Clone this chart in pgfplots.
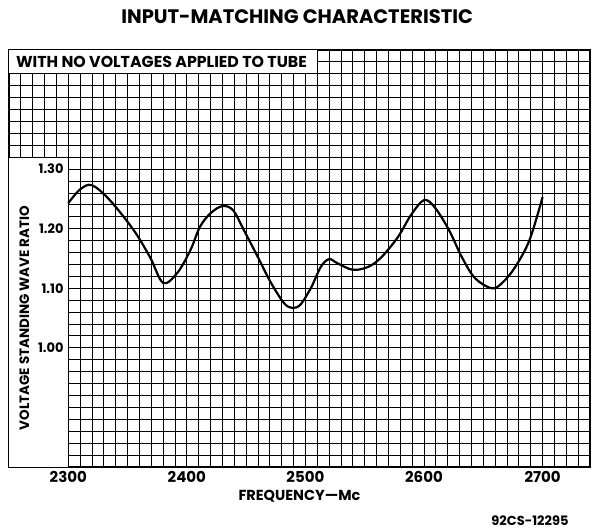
\documentclass[border=0pt]{standalone}
\usepackage{fontspec}
\setmainfont{Poppins}
\usepackage{pgfplots}
\pgfplotsset{compat=1.18}
\begin{document}
\begin{tikzpicture}
\begin{axis}[
  scale only axis,
  width=581pt, height=417pt,
  xmin=2250, xmax=2740, ymin=0.8, ymax=1.5,
  xtick={2300,2400,...,2700},
  ytick={1.0,1.1,1.2,1.3},
  yticklabels={},
  minor xtick={2250,2260,...,2740},
  minor ytick={0.80,0.82,...,1.50},
  grid=both,
  major grid style={black, line width=0.9pt},
  minor grid style={black, line width=0.9pt},
  major tick length=0pt, minor tick length=0pt,
  axis line style={line width=1.6pt},
  tick label style={font=\bfseries\fontsize{15}{15}\selectfont},
  /pgf/number format/assume math mode=true,
  xticklabel style={/pgf/number format/1000 sep={}, yshift=-1pt},
  title={INPUT-MATCHING CHARACTERISTIC},
  title style={at={(axis cs:2493,1.5)}, anchor=center, yshift=27pt, font=\bfseries\fontsize{19.5}{19.5}\selectfont},
  xlabel={FREQUENCY---Mc},
  xlabel style={at={(axis cs:2495,0.8)}, anchor=center, yshift=-29pt, font=\bfseries\fontsize{14.5}{14.5}\selectfont},
]
\fill[white] (axis cs:2250,0.8) rectangle (axis cs:2300,1.32);
\fill[white] (axis cs:2250,1.46) rectangle (axis cs:2510,1.5);
\draw[line width=1.2pt] (axis cs:2250,1.32) -- (axis cs:2300,1.32) -- (axis cs:2300,0.8);
\draw[line width=1.2pt] (axis cs:2250,1.46) -- (axis cs:2510,1.46) -- (axis cs:2510,1.5);
\node[font=\bfseries\fontsize{15.8}{15.8}\selectfont, anchor=west] at (axis cs:2253,1.48) {WITH NO VOLTAGES APPLIED TO TUBE};
\node[font=\bfseries\fontsize{13.5}{13.5}\selectfont, rotate=90] at (axis cs:2263,1.05) {VOLTAGE STANDING WAVE RATIO};
\node[anchor=east, font=\bfseries\fontsize{13}{13}\selectfont, inner sep=1pt] at (axis cs:2297,1.0) {1.00};
\node[anchor=east, font=\bfseries\fontsize{13}{13}\selectfont, inner sep=1pt] at (axis cs:2297,1.1) {1.10};
\node[anchor=east, font=\bfseries\fontsize{13}{13}\selectfont, inner sep=1pt] at (axis cs:2297,1.2) {1.20};
\node[anchor=east, font=\bfseries\fontsize{13}{13}\selectfont, inner sep=1pt] at (axis cs:2297,1.3) {1.30};
\addplot[black, line width=2.2pt, smooth, tension=0.55] coordinates {
(2300,1.243) (2310,1.266) (2320,1.273) (2335,1.248) (2355,1.198) (2369,1.152)
(2380,1.109) (2392,1.126) (2403,1.164) (2411,1.203) (2420,1.226) (2430,1.238)
(2439,1.231) (2448,1.198) (2460,1.152) (2471,1.109) (2482,1.075) (2489,1.067)
(2496,1.073) (2505,1.102) (2513,1.136) (2520,1.149) (2527,1.142) (2540,1.131)
(2553,1.136) (2564,1.152) (2578,1.186) (2589,1.223) (2600,1.248) (2609,1.236)
(2621,1.198) (2632,1.152) (2643,1.117) (2657,1.100) (2666,1.109) (2677,1.136)
(2689,1.181) (2700,1.253)
};
\end{axis}
\node[anchor=east, font=\bfseries\fontsize{13}{13}\selectfont] at ([xshift=-18pt,yshift=-54pt]current axis.south east) {92CS-12295};
\pgfresetboundingbox
\path ([xshift=-9pt,yshift=-65pt]current axis.south west) rectangle ([xshift=2pt,yshift=50pt]current axis.north east);
\end{tikzpicture}
\end{document}
